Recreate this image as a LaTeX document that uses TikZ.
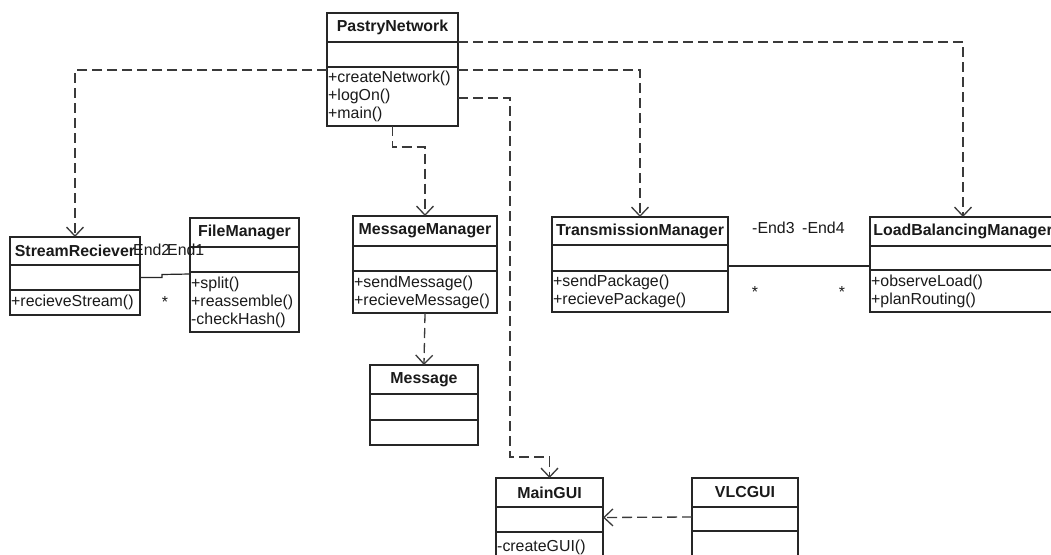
\documentclass[tikz,border=0pt]{standalone}
\usepackage{fontspec}
\setmainfont{Liberation Sans}
\usetikzlibrary{arrows.meta}

\definecolor{ink}{HTML}{1A1A1A}
\definecolor{boxline}{HTML}{262626}
\definecolor{depline}{HTML}{3A3A3A}

\newcommand\umlfont{\fontsize{15.9}{18}\selectfont}

\tikzset{
  classhead/.style={draw=boxline, line width=1.3pt, anchor=north west,
    inner sep=0pt, outer sep=0pt, font=\umlfont\bfseries, text=ink},
  classsec/.style={draw=boxline, line width=1.3pt, anchor=north west,
    inner sep=0pt, outer sep=0pt},
  methodtext/.style={anchor=west, inner sep=0pt, align=left,
    font=\umlfont, text=ink},
  lbl/.style={inner sep=0pt, font=\umlfont, text=ink},
  dep/.style={draw=depline, line width=1.3pt, dash pattern=on 10pt off 5pt,
    -{Straight Barb[length=9pt,width=17pt]}},
  assoc/.style={draw=boxline, line width=1.2pt},
}

% class box: name, x, y, width, header h, attribute h, operation h, title, operations
\newcommand\umlclass[9]{%
  \node[classhead, minimum width=#4pt, minimum height=#5pt] (#1) at (#2,#3) {#8};
  \node[classsec, minimum width=#4pt, minimum height=#6pt] (#1-a) at (#1.south west) {};
  \node[classsec, minimum width=#4pt, minimum height=#7pt] (#1-m) at (#1-a.south west) {};
  \node[methodtext] (#1-t) at ([xshift=1pt]#1-m.west) {#9};
}

\begin{document}
\begin{tikzpicture}[x=1pt, y=-1pt]
  \path[use as bounding box, fill=white] (0,0) rectangle (1051,554);
  \clip (0,0) rectangle (1051,554);

  % classes
  \umlclass{pn}{327}{13}{131}{29}{25}{59}{PastryNetwork}{+createNetwork()\\+logOn()\\+main()}
  \umlclass{sr}{10}{237}{130}{28}{25}{25}{StreamReciever}{+recieveStream()}
  \umlclass{fm}{190}{218}{109}{29}{25}{60}{FileManager}{+split()\\+reassemble()\\-checkHash()}
  \umlclass{mm}{353}{216}{144}{30}{25}{42}{MessageManager}{+sendMessage()\\+recieveMessage()}
  \umlclass{msg}{370}{365}{108}{29}{26}{25}{Message}{}
  \umlclass{tm}{552}{217}{176}{28}{26}{41}{TransmissionManager}{+sendPackage()\\+recievePackage()}
  \umlclass{lbm}{870}{217}{186}{29}{24}{42}{LoadBalancingManager}{+observeLoad()\\+planRouting()}
  \umlclass{mg}{496}{478}{107}{29}{25}{30}{MainGUI}{-createGUI()}
  \umlclass{vlc}{692}{478}{106}{29}{24}{30}{VLCGUI}{}

  % bend points
  \coordinate (pnmm) at (425,147);
  \coordinate (pnmg) at (510,457);

  % dependencies
  \draw[dep] ([yshift=-3pt]pn-m.north west) -| (sr.north);
  \draw[dep] (pn-a.north east) -| (lbm.north);
  \draw[dep] ([yshift=-3pt]pn-m.north east) -| (tm.north);
  \draw[dep] ([yshift=-31pt]pn-m.north east) -| (pnmg) -| (mg.north);
  \draw[dep] (pn-m.south) |- (pnmm) -- (mm.north);
  \draw[dep] (mm-m.south) -- (msg.north);
  \draw[dep] ([yshift=2pt]vlc-a.west) -- ([yshift=2pt]mg-a.east);

  % associations
  \draw[assoc] (sr-a.east) -- ++(22,0) -- ++(0,-3) -- ([yshift=-2pt]fm-m.north west);
  \draw[assoc] ([yshift=-8pt]tm-a.east) -- ([yshift=-8pt]lbm-a.west);

  % association end labels
  \node[lbl, anchor=west] (end2) at (133,250) {End2};
  \node[lbl, anchor=west] (end1) at (167,250) {End1};
  \node[lbl, anchor=base] (mult1) at (165,307) {*};
  \node[lbl, anchor=west] (end3) at (752,228) {-End3};
  \node[lbl, anchor=west] (end4) at (802,228) {-End4};
  \node[lbl, anchor=base] (mult3) at (755,297) {*};
  \node[lbl, anchor=base] (mult4) at (842,297) {*};
\end{tikzpicture}
\end{document}
